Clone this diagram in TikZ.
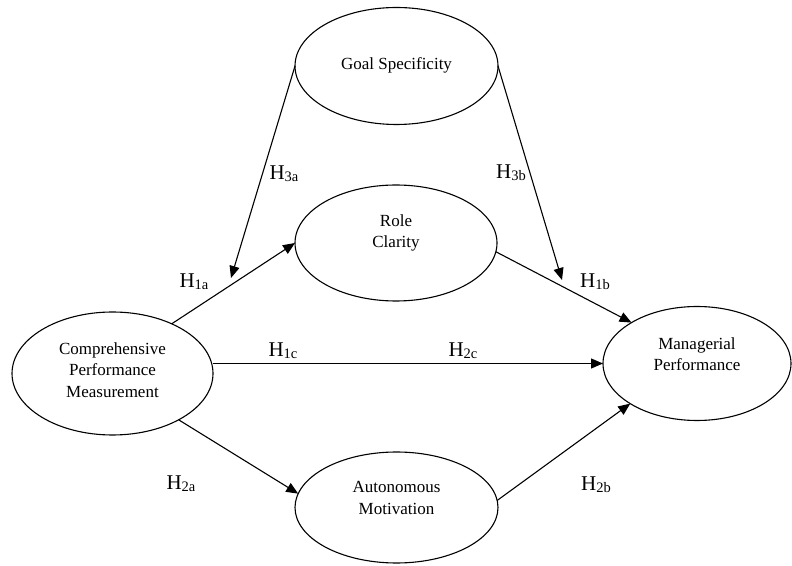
\documentclass[tikz,border=0pt]{standalone}
\usepackage{fontspec}
\setmainfont{Liberation Serif}
\usetikzlibrary{shapes.geometric,arrows.meta}
\newcommand{\hyp}[1]{H\raisebox{-2pt}{\fontsize{14.5}{14.5}\selectfont #1}}
\begin{document}
\begin{tikzpicture}[x=1pt,y=1pt,
  ell/.style={ellipse, draw, line width=1.1pt, inner sep=0pt, outer sep=0pt},
  lbl/.style={font=\fontsize{17}{21.5}\selectfont, align=center, inner sep=0pt},
  hyplbl/.style={font=\fontsize{21}{21}\selectfont, inner sep=0pt},
  arr/.style={line width=1.1pt, -{Triangle[length=12pt,width=10pt]}}]
\useasboundingbox (0,0) rectangle (792,565);
% ellipses
\node[ell, minimum width=203pt, minimum height=117pt] (goal) at (396.5,499) {};
\node[ell, minimum width=202pt, minimum height=116pt] (role) at (396,322) {};
\node[ell, minimum width=201pt, minimum height=123pt] (cpm) at (112.5,191.5) {};
\node[ell, minimum width=188pt, minimum height=114pt] (mp) at (697,201.5) {};
\node[ell, minimum width=203pt, minimum height=111pt] (auto) at (396.5,57.5) {};
% texts
\node[lbl] (goaltxt) at (396.5,500) {Goal Specificity};
\node[lbl] (roletxt) at (396,332) {Role\\Clarity};
\node[lbl] (cpmtxt) at (112.5,195) {Comprehensive\\Performance\\Measurement};
\node[lbl] (mptxt) at (697,211) {Managerial\\Performance};
\node[lbl] (autotxt) at (396.5,67) {Autonomous\\Motivation};
% free ends of moderating arrows
\coordinate (h3aend) at (231,287);
\coordinate (h3bend) at (562,285);
% connectors
\draw[arr] (goal.west) -- (h3aend);
\draw[arr] (goal.east) -- (h3bend);
\draw[arr] (cpm.40) -- (role.west);
\draw[arr] (role.355) -- (mp.148);
\draw[arr] (mp.west -| cpm.east) -- (mp.west);
\draw[arr] (cpm.325) -- (auto.172);
\draw[arr] (auto.4) -- (mp.211);
% hypothesis labels
\node[hyplbl] (h3a) at (284,391) {\hyp{3a}};
\node[hyplbl] (h3b) at (511,392) {\hyp{3b}};
\node[hyplbl] (h1a) at (194,283) {\hyp{1a}};
\node[hyplbl] (h1b) at (595,283) {\hyp{1b}};
\node[hyplbl] (h1c) at (283,214) {\hyp{1c}};
\node[hyplbl] (h2c) at (463,214) {\hyp{2c}};
\node[hyplbl] (h2a) at (181,81) {\hyp{2a}};
\node[hyplbl] (h2b) at (596,80) {\hyp{2b}};
\end{tikzpicture}
\end{document}
